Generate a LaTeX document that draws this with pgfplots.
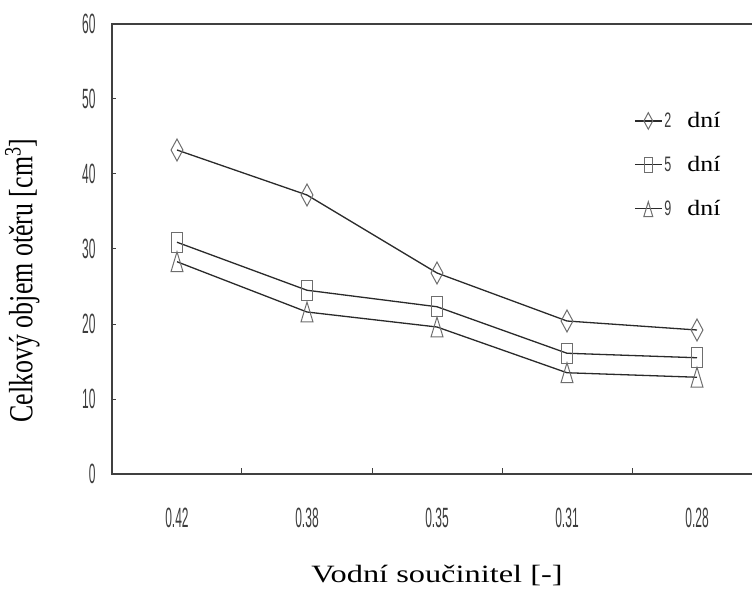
\documentclass[border=0pt]{standalone}
\usepackage{fontspec}
\setmainfont{Liberation Serif}
\newfontfamily\narrowsans{Liberation Sans}
\usepackage{graphicx}
\usepackage{pgfplots}
\pgfplotsset{compat=1.18}
\definecolor{linegray}{HTML}{2A2A2A}
\definecolor{markgray}{HTML}{6E6E6E}
\definecolor{axisgray}{HTML}{404040}
\definecolor{ticktext}{HTML}{3C3C3C}
% condensed digits for the ticks
\newcommand\tk[1]{{\color{ticktext}\scalebox{0.43}[1]{\fontsize{28}{28}\selectfont\narrowsans #1}}}
% condensed digits for the legend numbers
\newcommand\legnum[1]{{\color{ticktext}\scalebox{0.6}[1]{\fontsize{21}{21}\selectfont\narrowsans #1}}}
% widened serif text
\newcommand\wide[3]{\scalebox{#2}[1]{\fontsize{#1}{#1}\selectfont #3}}
\begin{document}
\begin{tikzpicture}
\useasboundingbox (-112bp,-117bp) rectangle (640bp,474bp);
\begin{axis}[
  at={(0,0)}, anchor=south west,
  scale only axis, width=650bp, height=450bp,
  xmin=-0.5, xmax=4.5, ymin=0, ymax=60,
  axis line style={axisgray, line width=1.6bp},
  xtick={0,1,2,3,4},
  xticklabels={\tk{0.42},\tk{0.38},\tk{0.35},\tk{0.31},\tk{0.28}},
  major x tick style={draw=none},
  minor xtick={0.5,1.5,2.5,3.5},
  minor x tick style={axisgray, line width=1bp},
  ytick={0,10,20,30,40,50,60},
  yticklabels={\tk{0},\tk{10},\tk{20},\tk{30},\tk{40},\tk{50},\tk{60}},
  major y tick style={axisgray, line width=1bp},
  major tick length=4bp, minor tick length=6bp,
  tick align=inside, xtick pos=bottom, ytick pos=left,
  xticklabel style={yshift=-31bp},
  yticklabel style={xshift=-13bp},
  every axis x label/.style={at={(axis description cs:0.5,-0.225)}, anchor=center},
  every axis y label/.style={at={(axis description cs:-0.138,0.43)}, anchor=center, rotate=90},
  xlabel={\wide{25}{1.3}{Vodní součinitel [-]}},
  ylabel={\scalebox{1}[1.3]{\fontsize{26}{26}\selectfont Celkový objem otěru [cm\textsuperscript{3}]}},
  legend style={draw=none, fill=none, at={(rel axis cs:0.803,0.808)}, anchor=north west,
    row sep=23bp, inner sep=0pt, nodes={inner sep=2pt}},
  legend cell align=left,
  legend image code/.code={
    \draw[mark repeat=2, mark phase=2, #1, every mark/.append style={scale=0.75}]
      plot coordinates {(0bp,0bp) (13.5bp,0bp) (27bp,0bp)};
  },
]
\addplot[linegray, line width=1.3bp, mark=diamond, mark size=11bp,
  mark options={solid, draw=markgray, fill=white, line width=1bp, xscale=0.72}]
  coordinates {(0,43.2) (1,37.2) (2,26.8) (3,20.4) (4,19.2)};
\addlegendentry{\legnum{2}\hspace{16bp}\wide{22}{1.18}{dní}}
\addplot[linegray, line width=1.3bp, mark=square, mark size=5.5bp,
  mark options={solid, draw=markgray, fill=white, line width=1bp, yscale=1.8}]
  coordinates {(0,30.9) (1,24.5) (2,22.3) (3,16.1) (4,15.5)};
\addlegendentry{\legnum{5}\hspace{16bp}\wide{22}{1.18}{dní}}
\addplot[linegray, line width=1.3bp, mark=triangle, mark size=13.3bp,
  mark options={solid, draw=markgray, fill=white, line width=1bp, xscale=0.52, yshift=-3.3bp}]
  coordinates {(0,28.3) (1,21.6) (2,19.6) (3,13.5) (4,12.9)};
\addlegendentry{\legnum{9}\hspace{16bp}\wide{22}{1.18}{dní}}
\end{axis}
\end{tikzpicture}
\end{document}
